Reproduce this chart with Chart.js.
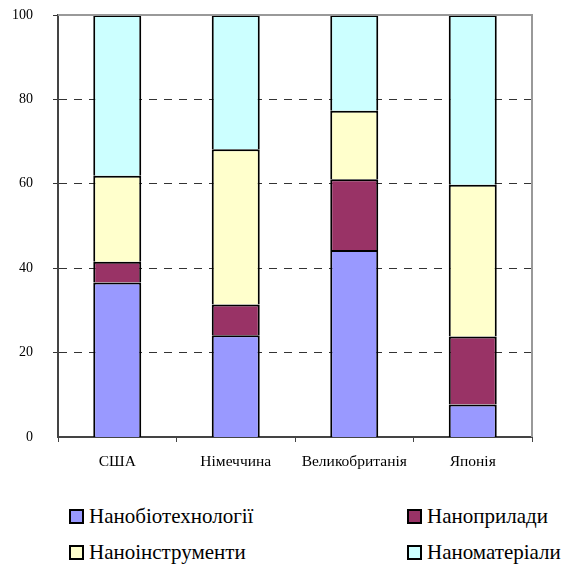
<!DOCTYPE html>
<html>
<head>
<meta charset="utf-8">
<script src="https://cdn.jsdelivr.net/npm/chart.js@4/dist/chart.umd.min.js"></script>
<style>
  html, body { margin: 0; padding: 0; background: #fff; }
  #wrap { position: relative; width: 573px; height: 564px; }
  #chart { position: absolute; left: 0; top: 0; }
  .leg { position: absolute; height: 30px; display: flex; align-items: center; font-family: 'Liberation Serif'; font-size: 21px; color: #000; white-space: nowrap; }
  .leg span.box { display: inline-block; width: 11px; height: 11px; border: 2px solid #000; margin-right: 5px; }
</style>
</head>
<body>
<div id="wrap">
  <canvas id="chart" width="573" height="480"></canvas>
  <div id="legend"></div>
</div>
<script>
// data (percent shares)
const countries = ["США", "Німеччина", "Великобританія", "Японія"];
const seriesNames = ["Нанобіотехнології", "Наноприлади", "Наноінструменти", "Наноматеріали"];
const bio = [36.6, 24.1, 44.3, 7.7];
const devices = [4.9, 7.3, 16.8, 16.1];
const instruments = [20.4, 36.8, 16.2, 36.0];
const materials = [38.1, 31.8, 22.7, 40.2];
const yTicks = [0, 20, 40, 60, 80, 100];

const colors = ["#9999FF", "#993366", "#FFFFCC", "#CCFFFF"];
const values = [bio, devices, instruments, materials];
const fontFamily = "'Liberation Serif'";

// top + right frame of the plot area
const framePlugin = {
  id: "frame",
  afterDraw(chart) {
    const a = chart.chartArea, ctx = chart.ctx;
    ctx.save();
    ctx.strokeStyle = "#999";
    ctx.lineWidth = 2;
    ctx.beginPath();
    ctx.moveTo(a.left, a.top);
    ctx.lineTo(a.right, a.top);
    ctx.lineTo(a.right, a.bottom);
    ctx.stroke();
    ctx.restore();
  }
};

new Chart(document.getElementById("chart"), {
  type: "bar",
  data: {
    labels: countries,
    datasets: seriesNames.map((name, i) => ({
      label: name,
      data: values[i],
      backgroundColor: colors[i],
      borderColor: "#000",
      borderWidth: 2,
      categoryPercentage: 1,
      barPercentage: 0.405
    }))
  },
  options: {
    responsive: false,
    animation: false,
    layout: { padding: { top: 15, right: 41, left: 0, bottom: 0 }, autoPadding: false },
    plugins: { legend: { display: false }, tooltip: { enabled: false } },
    scales: {
      x: {
        stacked: true,
        offset: true,
        grid: { offset: true, drawOnChartArea: false, drawTicks: true, tickLength: 5, color: "#444", lineWidth: 1 },
        border: { display: true, color: "#444", width: 2 },
        ticks: { color: "#000", padding: 11, font: { family: fontFamily, size: 15.5 } },
        afterFit(s) { s.height = 43; s.paddingLeft = 0; s.paddingRight = 0; }
      },
      y: {
        stacked: true,
        min: 0,
        max: 100,
        afterBuildTicks(s) { s.ticks = yTicks.map(v => ({ value: v })); },
        grid: {
          color: ctx => ctx.tick && ctx.tick.value === 100 ? "#999" : "#333",
          lineWidth: ctx => ctx.tick && ctx.tick.value === 0 ? 0 : 1,
          tickColor: "#333",
          tickLength: 5,
          tickBorderDash: []
        },
        border: { display: true, color: "#444", width: 2, dash: ctx => ctx.tick && ctx.tick.value === 100 ? [] : [8, 7] },
        ticks: { color: "#000", padding: 20, font: { family: fontFamily, size: 14 } },
        afterFit(s) { s.width = 58; s.paddingTop = 0; s.paddingBottom = 0; }
      }
    }
  },
  plugins: [framePlugin]
});

// legend in two columns, like the source
const legendPos = [[69, 501], [407, 501], [69, 537], [407, 537]];
const legend = document.getElementById("legend");
seriesNames.forEach((name, i) => {
  const d = document.createElement("div");
  d.className = "leg";
  d.style.left = legendPos[i][0] + "px";
  d.style.top = legendPos[i][1] + "px";
  d.innerHTML = '<span class="box" style="background:' + colors[i] + '"></span>' + name;
  legend.appendChild(d);
});
</script>
</body>
</html>
